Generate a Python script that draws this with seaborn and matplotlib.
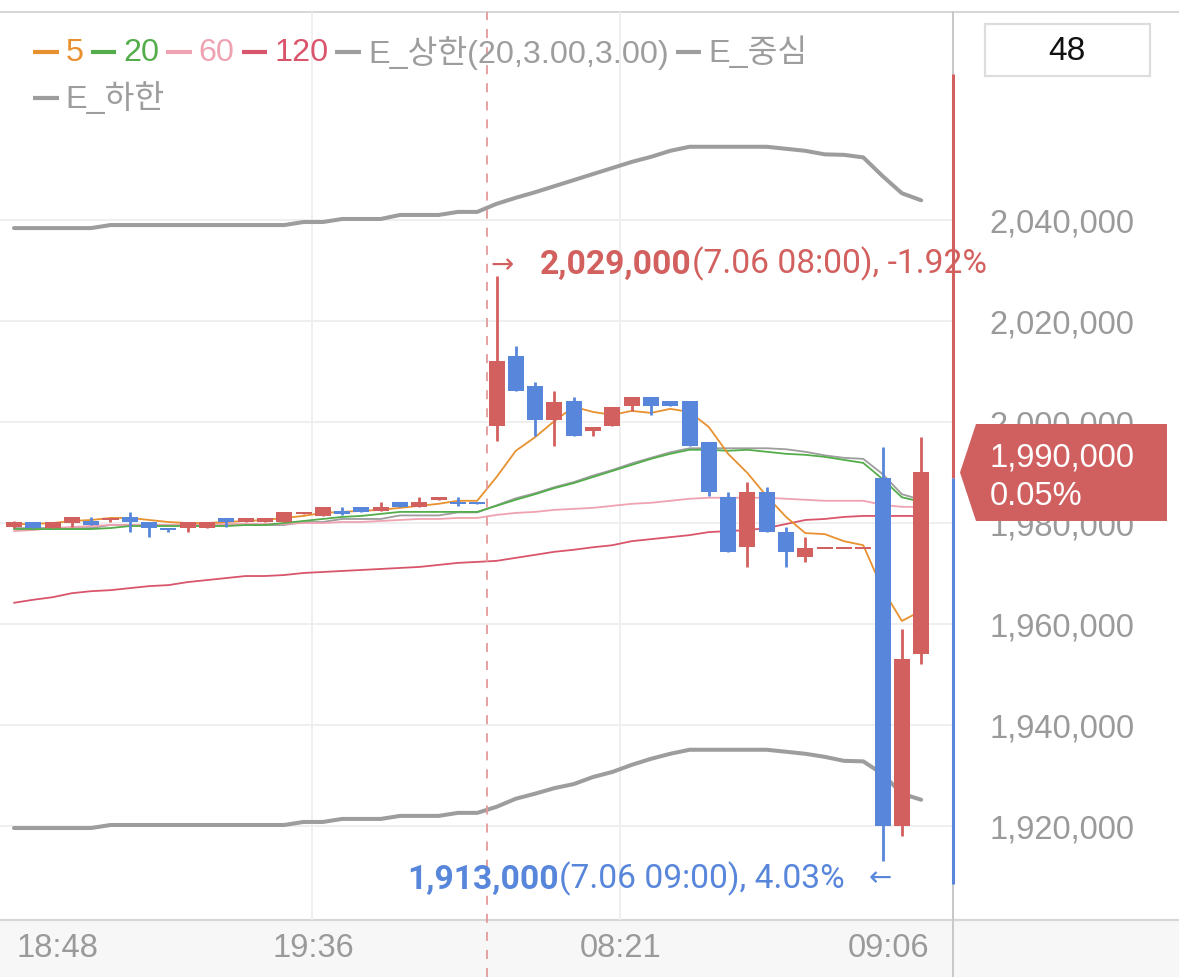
import numpy as np
import pandas as pd
import matplotlib
matplotlib.use("Agg")
import matplotlib.pyplot as plt
import seaborn as sns
from matplotlib.offsetbox import DrawingArea, TextArea, HPacker, VPacker, AnchoredOffsetbox
from matplotlib.lines import Line2D
from matplotlib.patches import Polygon, Rectangle
import matplotlib.transforms as mtrans

# ---------------- data ----------------
open_ = [1979200, 1980100, 1979100, 1980000, 1980300, 1980500, 1981100, 1980100, 1979100, 1979100,
         1979100, 1981000, 1980100, 1980100, 1980100, 1981700, 1981300, 1982300, 1983100, 1982400,
         1984100, 1983100, 1984600, 1984100, 1984100, 1999300, 2013100, 2007100, 2000300, 2004100,
         1998300, 1999300, 2003200, 2005000, 2004100, 2004100, 1996100, 1985100, 1975200, 1986100,
         1978200, 1973200, 1975000, 1975000, 1975000, 1989000, 1920000, 1954000]
high = [1980300, 1980100, 1980100, 1981100, 1981100, 1981000, 1982100, 1980100, 1979100, 1980100,
        1980100, 1981000, 1981000, 1981000, 1982100, 1982100, 1983100, 1983100, 1983100, 1984100,
        1984100, 1985100, 1985100, 1985100, 1984100, 2029000, 2015100, 2008000, 2006100, 2005000,
        1999100, 2003000, 2005000, 2005000, 2004100, 2004100, 1996100, 1986100, 1988200, 1987100,
        1979200, 1977200, 1975000, 1975000, 1975000, 1995000, 1959000, 1997000]
low = [1979100, 1979100, 1979100, 1979200, 1979700, 1980100, 1978200, 1977200, 1978200, 1978200,
       1979100, 1979300, 1980100, 1980100, 1980100, 1981700, 1981300, 1981500, 1982100, 1982400,
       1983100, 1983100, 1984600, 1983400, 1983700, 1996300, 2006200, 1997300, 1995300, 1997300,
       1997300, 1999300, 2002200, 2001300, 2003200, 1995300, 1985300, 1974200, 1971200, 1978300,
       1971200, 1972200, 1975000, 1975000, 1975000, 1913000, 1918000, 1952000]
close = [1980200, 1979100, 1980100, 1981100, 1979700, 1981000, 1980100, 1979100, 1978700, 1980100,
         1980100, 1980100, 1981000, 1981000, 1982100, 1982100, 1983100, 1981800, 1982100, 1983100,
         1983100, 1984100, 1985100, 1983700, 1983700, 2012100, 2006200, 2000300, 2004000, 1997300,
         1999100, 2003000, 2005000, 2003200, 2003200, 1995300, 1986200, 1974200, 1986100, 1978300,
         1974200, 1975000, 1975000, 1975000, 1975000, 1920000, 1953000, 1990000]

ma5 = [1979800, 1979800, 1980000, 1980400, 1980600, 1981000, 1981000, 1980600, 1980200, 1980000,
       1980000, 1980200, 1980400, 1980600, 1981000, 1981400, 1982000, 1982200, 1982400, 1982600,
       1983000, 1983400, 1983800, 1984400, 1984400, 1989100, 1994300, 1997000, 2000200, 2003000,
       2002000, 2001400, 2002200, 2001800, 2002600, 2002000, 1999000, 1993700, 1989900, 1985300,
       1981200, 1978000, 1977800, 1976400, 1975600, 1966900, 1960600, 1962600]
ma20 = [1978800, 1978800, 1978800, 1978800, 1978800, 1979000, 1979400, 1979400, 1979400, 1979400,
        1979400, 1979400, 1979600, 1979600, 1980000, 1980400, 1980800, 1981200, 1981400, 1981800,
        1982200, 1982200, 1982200, 1982200, 1982200, 1983400, 1984600, 1985700, 1986900, 1987900,
        1989100, 1990300, 1991500, 1992700, 1993700, 1994500, 1994500, 1994300, 1994500, 1994100,
        1993700, 1993500, 1993100, 1992500, 1991900, 1988700, 1985100, 1984200]
ma60 = [1978400, 1978600, 1979000, 1979200, 1979400, 1979600, 1979600, 1979600, 1979600, 1979800,
        1979800, 1979800, 1979800, 1979800, 1979800, 1980000, 1980000, 1980200, 1980200, 1980400,
        1980600, 1980800, 1980800, 1981000, 1981000, 1981600, 1982000, 1982200, 1982600, 1982800,
        1983000, 1983400, 1983800, 1984000, 1984400, 1984800, 1985000, 1985000, 1985000, 1985000,
        1984800, 1984600, 1984400, 1984400, 1984400, 1983600, 1983200, 1983200]
ma120 = [1964200, 1964800, 1965300, 1966100, 1966500, 1966700, 1967100, 1967500, 1967700, 1968300,
         1968700, 1969100, 1969500, 1969500, 1969700, 1970100, 1970300, 1970500, 1970700, 1970900,
         1971100, 1971300, 1971700, 1972100, 1972300, 1972500, 1973100, 1973700, 1974300, 1974700,
         1975200, 1975600, 1976400, 1976800, 1977200, 1977600, 1978200, 1978400, 1978600, 1979000,
         1979800, 1980600, 1980800, 1981200, 1981400, 1981400, 1981400, 1981400]
env_upper = [2038400, 2038400, 2038400, 2038400, 2038400, 2039000, 2039000, 2039000, 2039000, 2039000,
             2039000, 2039000, 2039000, 2039000, 2039000, 2039600, 2039600, 2040200, 2040200, 2040200,
             2041000, 2041000, 2041000, 2041600, 2041600, 2043200, 2044400, 2045500, 2046700, 2047900,
             2049100, 2050300, 2051500, 2052500, 2053700, 2054500, 2054500, 2054500, 2054500, 2054500,
             2054100, 2053700, 2053000, 2052900, 2052400, 2048700, 2045300, 2043900]
env_center = [1979000, 1979000, 1979000, 1979000, 1979000, 1979600, 1979600, 1979600, 1979600, 1979600,
              1979600, 1979600, 1979600, 1979600, 1979600, 1980200, 1980200, 1980800, 1980800, 1980800,
              1981500, 1981500, 1981500, 1982100, 1982100, 1983500, 1984900, 1985900, 1987100, 1988100,
              1989400, 1990500, 1991800, 1992900, 1994000, 1994800, 1994800, 1994800, 1994800, 1994800,
              1994600, 1994100, 1993400, 1992900, 1992700, 1989700, 1985700, 1984600]
env_lower = [1919600, 1919600, 1919600, 1919600, 1919600, 1920200, 1920200, 1920200, 1920200, 1920200,
             1920200, 1920200, 1920200, 1920200, 1920200, 1920800, 1920800, 1921400, 1921400, 1921400,
             1922000, 1922000, 1922000, 1922600, 1922600, 1923800, 1925400, 1926400, 1927500, 1928300,
             1929700, 1930700, 1932100, 1933300, 1934300, 1935100, 1935100, 1935100, 1935100, 1935100,
             1934700, 1934300, 1933700, 1932900, 1932800, 1930300, 1926400, 1925200]

xtick_pos = [2.23, 15.5, 31.45, 45.3]
xtick_labels = ["18:48", "19:36", "08:21", "09:06"]
xgrid_pos = [15.44, 31.4]
ytick_vals = [1920000, 1940000, 1960000, 1980000, 2000000, 2020000, 2040000]
legend_labels = ["5", "20", "60", "120", "E_상한(20,3.00,3.00)", "E_중심", "E_하한"]

day_split = 24.5
high_idx, high_val = 25, 2029000
low_idx, low_val = 45, 1913000
last_price = 1990000
range_top, range_mid, range_bottom = 2069000, 1989000, 1908500

# ---------------- style ----------------
sns.set_theme(style="white")
plt.rcParams["font.family"] = ["Liberation Sans", "Noto Sans CJK KR", "DejaVu Sans"]

RED = "#d2605f"
BLUE = "#5886da"
ORANGE = "#e8912f"
GREEN = "#52ad4a"
PINK = "#efa2b1"
RED120 = "#d9556b"
GRAY = "#9d9d9d"
TXTGRAY = "#9a9a9a"

W, H = 1179, 978
fig = plt.figure(figsize=(W / 100, H / 100), dpi=100)
fig.patch.set_facecolor("white")

# background band and frame lines (figure level)
fig.add_artist(Rectangle((0, 0), 1, 57 / H, transform=fig.transFigure,
                         facecolor="#f7f7f7", edgecolor="none", zorder=-5))
fig.add_artist(Line2D([0, 1], [57 / H, 57 / H], transform=fig.transFigure,
                      color="#d6d6d6", lw=1.6, zorder=-4))
fig.add_artist(Line2D([0, 1], [1 - 13 / H, 1 - 13 / H], transform=fig.transFigure,
                      color="#cfcfcf", lw=1.2, zorder=-4))
fig.add_artist(Line2D([953 / W, 953 / W], [0, 1 - 13 / H], transform=fig.transFigure,
                      color="#c8c8c8", lw=1.4, zorder=-4))

ax = fig.add_axes([0, 57 / H, 953 / W, 908 / H])
ax.patch.set_alpha(0)
for s in ax.spines.values():
    s.set_visible(False)

idx = np.arange(len(close))
ax.set_xlim(-0.725, 48.65)
ax.set_ylim(1901386, 2081188)

# grid
ax.set_yticks(ytick_vals, labels=[f"{v:,}" for v in ytick_vals])
ax.yaxis.tick_right()
ax.grid(axis="y", color="#eeeeee", lw=1.3, zorder=0)
for gx in xgrid_pos:
    ax.axvline(gx, color="#eeeeee", lw=1.3, zorder=0)
ax.tick_params(axis="y", length=0, pad=26, labelsize=23.5, labelcolor=TXTGRAY)
ax.set_xticks(xtick_pos, labels=xtick_labels)
ax.tick_params(axis="x", length=0, pad=9, labelsize=23.5, labelcolor=TXTGRAY)

# lines
df = pd.DataFrame({"idx": idx, "ma5": ma5, "ma20": ma20, "ma60": ma60, "ma120": ma120,
                   "up": env_upper, "mid": env_center, "lo": env_lower})
sns.lineplot(data=df, x="idx", y="up", color=GRAY, lw=2.9, ax=ax, zorder=1, estimator=None)
sns.lineplot(data=df, x="idx", y="lo", color=GRAY, lw=2.9, ax=ax, zorder=1, estimator=None)
sns.lineplot(data=df, x="idx", y="mid", color=GRAY, lw=1.3, ax=ax, zorder=1.5, estimator=None)
sns.lineplot(data=df, x="idx", y="ma120", color=RED120, lw=1.3, ax=ax, zorder=2, estimator=None)
sns.lineplot(data=df, x="idx", y="ma60", color=PINK, lw=1.3, ax=ax, zorder=2, estimator=None)
sns.lineplot(data=df, x="idx", y="ma20", color=GREEN, lw=1.3, ax=ax, zorder=2, estimator=None)
sns.lineplot(data=df, x="idx", y="ma5", color=ORANGE, lw=1.3, ax=ax, zorder=2.2, estimator=None)
ax.set_xlabel("")
ax.set_ylabel("")

# day separator
ax.axvline(day_split, ymin=-57 / 908, ymax=1, color="#e59a9a", lw=1.3,
           ls=(0, (5, 5)), clip_on=False, zorder=2.5)

# candles
o = np.array(open_); c = np.array(close); h = np.array(high); l = np.array(low)
up = c >= o
cols = np.where(up, RED, BLUE)
body_lo = np.minimum(o, c)
body_h = np.abs(c - o)
minh = 400
body_lo = np.where(body_h < minh, (o + c) / 2 - minh / 2, body_lo)
body_h = np.maximum(body_h, minh)
ax.vlines(idx, l, h, colors=cols, lw=2.0, zorder=3)
ax.bar(idx, body_h, bottom=body_lo, width=0.83, color=cols, edgecolor="none", zorder=3.1)

# high / low annotations
ANN = 24.2
ax.text(25.3, 2031300, "→", color=RED, fontsize=20, family="DejaVu Sans",
        ha="center", va="center", zorder=5)
t1 = ax.text(27.25, 2031300, f"{high_val:,}", color=RED, fontsize=ANN, fontweight="bold",
             family=["Roboto", "DejaVu Sans"], ha="left", va="center", zorder=5)
ax.annotate("(7.06 08:00), -1.92%", xy=(1, 0), xycoords=t1, color=RED, fontsize=ANN,
            family=["Roboto", "DejaVu Sans"], ha="left", va="bottom", zorder=5,
            annotation_clip=False)

ax.text(44.9, 1909800, "←", color=BLUE, fontsize=20, family="DejaVu Sans",
        ha="center", va="center", zorder=5)
t2 = ax.text(43.06, 1909800, "(7.06 09:00), 4.03%", color=BLUE, fontsize=ANN,
             family=["Roboto", "DejaVu Sans"], ha="right", va="center", zorder=5)
ax.annotate(f"{low_val:,}", xy=(0, 0), xycoords=t2, color=BLUE, fontsize=ANN, fontweight="bold",
            family=["Roboto", "DejaVu Sans"], ha="right", va="bottom", zorder=5,
            annotation_clip=False)

# right range bar
btr = mtrans.blended_transform_factory(ax.transAxes, ax.transData)
ax.plot([1.0, 1.0], [range_top, range_mid], color=RED, lw=2.2, transform=btr,
        clip_on=False, zorder=6, solid_capstyle="butt")
ax.plot([1.0, 1.0], [range_mid, range_bottom], color=BLUE, lw=2.2, transform=btr,
        clip_on=False, zorder=6, solid_capstyle="butt")

# price box
bx0, bx1, bx2 = 960 / 953, 976 / 953, 1167 / 953
ptop, pbot = last_price + 9600, last_price - 9600
poly = Polygon([(bx0, last_price), (bx1, ptop), (bx2, ptop), (bx2, pbot), (bx1, pbot)],
               closed=True, transform=btr, facecolor="#d0605f", edgecolor="none",
               clip_on=False, zorder=10)
ax.add_patch(poly)
ax.text(990 / 953, last_price + 3100, f"{last_price:,}", transform=btr, color="white",
        fontsize=23.5, ha="left", va="center", zorder=11, clip_on=False)
ax.text(990 / 953, last_price - 4500, "0.05%", transform=btr, color="white",
        fontsize=23.5, ha="left", va="center", zorder=11, clip_on=False)

# count box
fig.add_artist(Rectangle((985 / W, 1 - 77 / H), 165 / W, 52 / H, transform=fig.transFigure,
                         facecolor="white", edgecolor="#dddddd", lw=1.6, zorder=5))
fig.text(1067 / W, 1 - 51 / H, "48", color="#111111", fontsize=24, ha="center", va="center",
         zorder=6)

# legend
legend_colors = [ORANGE, GREEN, PINK, RED120, GRAY, GRAY, GRAY]
entries = []
for lab, col in zip(legend_labels, legend_colors):
    da = DrawingArea(18.5, 12, 0, 0)
    da.add_artist(Line2D([0, 18.5], [6, 6], color=col, lw=3.0, solid_capstyle="butt"))
    ta = TextArea(lab, textprops=dict(color=col, fontsize=23.3))
    entries.append(HPacker(children=[da, ta], align="center", pad=0, sep=5))
row1 = HPacker(children=entries[:6], align="center", pad=0, sep=5)
row2 = HPacker(children=entries[6:], align="center", pad=0, sep=5)
box = VPacker(children=[row1, row2], align="left", pad=0, sep=9)
anch = AnchoredOffsetbox(loc="upper left", child=box, pad=0, borderpad=0, frameon=False,
                         bbox_to_anchor=(33 / W, 1 - 36 / H), bbox_transform=fig.transFigure)
anch.set_zorder(7)
fig.add_artist(anch)

fig.savefig("out.png", dpi=100)
